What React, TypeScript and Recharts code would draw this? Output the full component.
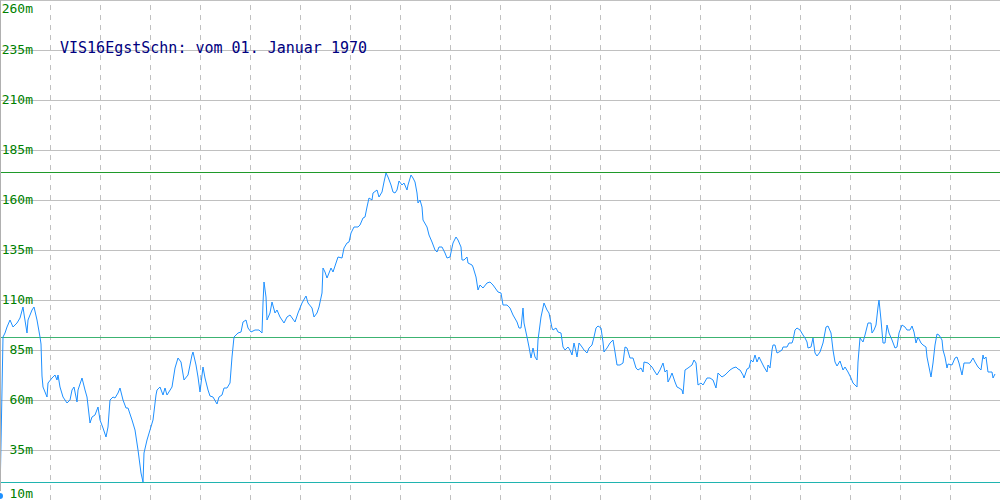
import { Line, LineChart, ReferenceLine, XAxis, YAxis } from "recharts";

// day index along the record (0..1000) and the reading at that day, in metres
const dayIndex = [
  0, 3, 5, 7, 10, 13, 17, 20, 23, 24, 27, 28, 32, 34, 37, 40, 41, 42, 43, 47,
  48, 52, 55, 57, 58, 60, 63, 67, 70, 72, 74, 77, 78, 82, 85, 87, 90, 92, 95, 98,
  100, 103, 106, 108, 110, 113, 115, 118, 120, 123, 126, 128, 132, 135, 138, 141, 143, 144, 147, 150,
  153, 156, 157, 160, 163, 165, 167, 172, 175, 178, 181, 184, 188, 192, 193, 196, 198, 200, 203, 205,
  208, 210, 213, 217, 219, 222, 224, 227, 230, 232, 234, 238, 241, 243, 246, 248, 251, 255, 259, 262,
  263, 264, 266, 267, 270, 272, 275, 277, 280, 284, 287, 290, 295, 298, 302, 306, 308, 312, 314, 317,
  319, 322, 323, 325, 327, 331, 333, 336, 338, 342, 344, 347, 349, 351, 354, 358, 360, 363, 365, 367,
  369, 372, 373, 377, 379, 382, 384, 386, 388, 391, 393, 395, 397, 399, 402, 404, 407, 408, 411, 413,
  415, 417, 418, 420, 422, 423, 427, 429, 432, 435, 437, 439, 442, 445, 447, 450, 453, 456, 458, 461,
  462, 464, 467, 468, 472, 473, 476, 478, 480, 483, 487, 490, 493, 498, 501, 503, 507, 510, 513, 517,
  519, 521, 523, 524, 527, 529, 531, 533, 535, 537, 538, 541, 544, 547, 549, 552, 553, 556, 558, 561,
  563, 565, 568, 570, 572, 574, 576, 577, 579, 582, 584, 587, 589, 592, 594, 596, 598, 601, 603, 604,
  607, 610, 613, 615, 617, 620, 623, 625, 627, 630, 633, 636, 638, 641, 643, 644, 648, 652, 655, 657,
  660, 663, 665, 667, 668, 670, 672, 675, 677, 679, 682, 683, 685, 688, 692, 694, 696, 698, 701, 703,
  707, 710, 713, 716, 718, 722, 725, 727, 730, 733, 736, 738, 740, 743, 744, 747, 749, 751, 753, 755,
  757, 759, 762, 764, 767, 768, 770, 772, 773, 775, 777, 779, 782, 783, 787, 789, 792, 793, 795, 797,
  800, 803, 805, 807, 808, 811, 813, 815, 817, 820, 823, 826, 828, 831, 833, 835, 837, 840, 843, 845,
  848, 851, 853, 857, 858, 860, 863, 865, 867, 868, 871, 872, 874, 876, 878, 879, 881, 883, 885, 887,
  889, 892, 895, 897, 899, 902, 905, 907, 910, 912, 914, 916, 918, 921, 923, 926, 927, 929, 931, 933,
  935, 937, 939, 942, 943, 945, 947, 948, 952, 955, 957, 959, 962, 964, 967, 970, 973, 975, 978, 981,
  983, 984, 986, 988, 992, 993, 995,
];

const depth = [
  12, 91.5, 93.5, 96.5, 100, 96.5, 98.5, 101, 106.5, 103, 93.5, 100, 105, 106.5, 100, 91.5, 88, 72, 66.5, 61.5,
  68.5, 71, 72.5, 70, 72.5, 66.5, 61.5, 58.5, 60, 65, 66.5, 59, 65, 71, 65, 61.5, 48.5, 51.5, 52.5, 56.5,
  50, 46, 41.5, 46.5, 60, 61.5, 61, 63.5, 66, 60, 56, 56, 50, 45, 35, 23.5, 19, 33.5, 40, 45,
  50, 62.5, 65, 66.5, 62.5, 66, 62.5, 66.5, 76, 81, 79, 70, 72.5, 82.5, 84, 77.5, 71.5, 64, 76.5, 71,
  65, 62, 61.5, 58, 61.5, 62.5, 66, 66, 68.5, 81.5, 91.5, 93.5, 94, 99, 100, 96, 94, 95, 95, 93.5,
  108.5, 119, 111.5, 100, 103.5, 109, 103.5, 105, 101.5, 98.5, 101.5, 102.5, 99, 103.5, 108.5, 112, 108.5, 106, 101.5, 103.5,
  106.5, 113.5, 126, 124, 121, 126, 124, 128.5, 131.5, 131, 136, 138.5, 139, 143.5, 146.5, 146.5, 147.5, 151, 151.5, 156.5,
  161, 160, 163.5, 165, 161.5, 164, 169, 173.5, 171.5, 167.5, 164, 163.5, 165, 169.5, 167.5, 168.5, 165, 167.5, 172.5, 171,
  169, 163.5, 158.5, 160, 156.5, 150, 146.5, 142.5, 139, 135, 134, 136.5, 136.5, 133.5, 131, 131.5, 138.5, 141.5, 140, 136.5,
  130, 130, 131.5, 128.5, 127.5, 126.5, 121.5, 115, 117.5, 116, 118.5, 119, 117.5, 114, 113.5, 107.5, 107.5, 106, 102.5, 99,
  96, 96, 106, 98.5, 91.5, 86.5, 81, 86, 81.5, 80, 90, 101.5, 108.5, 105, 103.5, 96, 95, 96, 94, 93.5,
  86.5, 85, 86.5, 85, 82.5, 88.5, 84, 81.5, 88.5, 86.5, 85, 83.5, 86, 87.5, 91.5, 96, 97, 96, 89, 84,
  86, 88.5, 90, 84, 77.5, 77.5, 78.5, 86.5, 86, 81, 81, 76, 75, 76, 74, 79, 78.5, 76.5, 74, 72.5,
  75, 78.5, 74, 75, 69, 71, 73.5, 69, 66.5, 66, 65, 63, 75, 76, 77.5, 80, 78.5, 67.5, 68.5, 67.5,
  71, 71, 70, 66, 73.5, 71.5, 72.5, 73.5, 75, 76, 76.5, 75.5, 75, 72.5, 71, 75.5, 76, 80, 79, 82.5,
  79, 81.5, 78.5, 76.5, 74, 77.5, 76, 85, 87.5, 87.5, 83.5, 84, 85, 86.5, 86.5, 88.5, 88.5, 90, 95, 96,
  95, 92.5, 91, 89, 86, 86.5, 91, 83.5, 82, 84, 88.5, 96.5, 97, 93.5, 85, 79, 77, 79.5, 75, 76.5,
  74, 71, 68.5, 66.5, 79, 91, 89, 92.5, 96.5, 98.5, 98.5, 93.5, 95, 97.5, 106.5, 110, 100, 88.5, 88.5, 97.5,
  93.5, 90, 86, 86.5, 93.5, 97.5, 96.5, 95, 95, 97, 94, 88.5, 91.5, 88.5, 87.5, 86.5, 81.5, 76.5, 71.5, 78.5,
  87.5, 93, 92.5, 90, 85, 81.5, 76, 78, 77.5, 81, 81.5, 78.5, 72.5, 78.5, 78.5, 78.5, 81, 79, 76.5, 75,
  82.5, 80.5, 81.5, 74, 74, 71, 73,
];

const levelTicks = [10, 35, 60, 85, 110, 135, 160, 185, 210, 235, 260];
const dayGrid = [50, 100, 150, 200, 250, 300, 350, 400, 450, 500, 550, 600, 650, 700, 750, 800, 850, 900, 950];

// limit lines: upper, mid, lower
const limits = [
  { value: 174, color: "#1f9a2a" },
  { value: 91.5, color: "#3cb371" },
  { value: 19, color: "#20b4b0" },
];

const title = "VIS16EgstSchn: vom 01. Januar 1970";

const rows = dayIndex.map((d, i) => ({ day: d, value: depth[i] }));

function LevelTick(props: any) {
  const { y, payload } = props;
  const base = Math.min(Math.max(y + 4, 13), 498);
  return (
    <text
      x={33}
      y={base}
      textAnchor="end"
      fill="#008000"
      fontFamily="'DejaVu Sans Mono', monospace"
      fontSize={13}
    >
      {payload.value}m
    </text>
  );
}

export default function App() {
  return (
    <div style={{ position: "absolute", left: 0, top: 0, width: 1000, height: 500, background: "#fff" }}>
      <LineChart width={1000} height={500} data={rows} margin={{ top: 0, right: 0, bottom: 0, left: 0 }}>
        <XAxis dataKey="day" type="number" domain={[0, 1000]} hide />
        <YAxis
          type="number"
          domain={[10, 260]}
          ticks={levelTicks}
          interval={0}
          width={40}
          mirror
          tickLine={false}
          axisLine={{ stroke: "#b0b0b0", shapeRendering: "crispEdges" }}
          tick={LevelTick}
        />

        {levelTicks.map((v) => (
          <ReferenceLine key={"h" + v} y={v} stroke="#c0c0c0" ifOverflow="visible" shapeRendering="crispEdges" />
        ))}
        {dayGrid.map((d) => (
          <ReferenceLine
            key={"v" + d}
            x={d}
            stroke="#c0c0c0"
            strokeDasharray="5 5"
            shapeRendering="crispEdges"
          />
        ))}
        {limits.map((l) => (
          <ReferenceLine key={"l" + l.value} y={l.value} stroke={l.color} shapeRendering="crispEdges" />
        ))}

        <Line
          type="linear"
          dataKey="value"
          stroke="#1e90ff"
          strokeWidth={1}
          dot={false}
          isAnimationActive={false}
        />
      </LineChart>
      <svg width={1000} height={500} style={{ position: "absolute", left: 0, top: 0, pointerEvents: "none" }}>
        <text x={60} y={53} fill="#000080" fontFamily="'DejaVu Sans Mono', monospace" fontSize={15}>
          {title}
        </text>
      </svg>
    </div>
  );
}
